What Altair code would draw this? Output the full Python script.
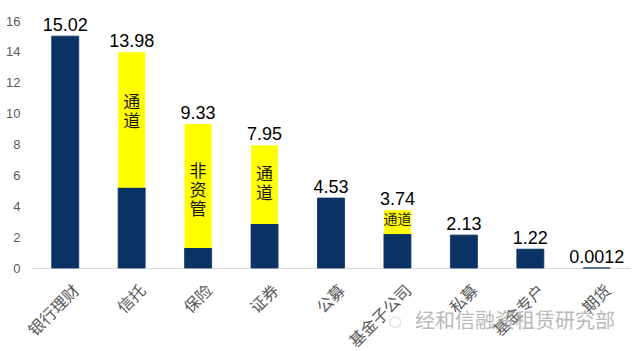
import altair as alt
import pandas as pd

categories = ["银行理财", "信托", "保险", "证券", "公募", "基金子公司", "私募", "基金专户", "期货"]
totals = [15.02, 13.98, 9.33, 7.95, 4.53, 3.74, 2.13, 1.22, 0.0012]
base_part = [15.02, 5.2, 1.3, 2.85, 4.53, 2.2, 2.13, 1.22, 0.0012]
total_labels = ["15.02", "13.98", "9.33", "7.95", "4.53", "3.74", "2.13", "1.22", "0.0012"]
y_ticks = [0, 2, 4, 6, 8, 10, 12, 14, 16]

note_categories = ["信托", "保险", "证券"]
note_texts = ["通\n道", "非\n资\n管", "通\n道"]
note_at = [10.7, 6.2, 6.0]

small_note_category = ["基金子公司"]
small_note_text = ["通道"]
small_note_at = [3.1]

NAVY = "#0b3264"
YELLOW = "#ffff00"
FONT_CJK = "Noto Sans CJK SC"

df = pd.DataFrame({
    "cat": categories,
    "total": totals,
    "base": base_part,
    "label": total_labels,
})
df["zero"] = 0.0
yellow_df = df[df["total"] > df["base"]]

notes = pd.DataFrame({"cat": note_categories, "text": note_texts, "at": note_at})
small = pd.DataFrame({"cat": small_note_category, "text": small_note_text, "at": small_note_at})

x_axis = alt.Axis(
    labelAngle=-45,
    labelFont=FONT_CJK,
    labelFontSize=16,
    labelColor="#595959",
    ticks=False,
    labelPadding=14,
    labelOffset=6,
    domainColor="#d9d9d9",
    domainWidth=1,
)
x_scale = alt.Scale(paddingInner=0, paddingOuter=0)
y_axis = alt.Axis(
    values=y_ticks,
    grid=False,
    domain=False,
    ticks=False,
    labelOverlap=False,
    labelPadding=12,
    labelFont="Liberation Sans",
    labelFontSize=13,
    labelColor="#595959",
)
y_scale = alt.Scale(domain=[0, 16], nice=False)


def X():
    return alt.X("cat:N", sort=categories, title=None, scale=x_scale, axis=x_axis)


def Y(field):
    return alt.Y(field, scale=y_scale, title=None, axis=y_axis)


blue = alt.Chart(df).mark_bar(size=27, color=NAVY, stroke=NAVY, strokeWidth=0.8).encode(
    x=X(), y=Y("base:Q"), y2="zero:Q",
)

yellow = alt.Chart(yellow_df).mark_bar(size=27, color=YELLOW).encode(
    x=X(), y=Y("total:Q"), y2="base:Q",
)

values = alt.Chart(df).mark_text(
    baseline="bottom", dy=-1, font="Liberation Sans", fontSize=18, color="#000000"
).encode(x=X(), y=Y("total:Q"), text="label:N")

note_marks = alt.Chart(notes).mark_text(
    font=FONT_CJK, fontSize=17, color="#1a1a1a", lineBreak="\n", lineHeight=19,
    baseline="middle", align="center",
).encode(x=X(), y=Y("at:Q"), text="text:N")

small_marks = alt.Chart(small).mark_text(
    font=FONT_CJK, fontSize=14, color="#1a1a1a", baseline="middle", align="center",
).encode(x=X(), y=Y("at:Q"), text="text:N")

watermark = alt.Chart(pd.DataFrame({"t": ["经和信融资租赁研究部"]})).mark_text(
    font=FONT_CJK, fontSize=20, color="#a8a8a8", opacity=0.8, align="left", baseline="middle",
).encode(x=alt.value(383), y=alt.value(301), text="t:N")

icon = alt.Chart(pd.DataFrame({"t": ["◌"]})).mark_text(
    fontSize=24, color="#a8a8a8", opacity=0.7, baseline="middle",
).encode(x=alt.value(363), y=alt.value(301), text="t:N")

chart = alt.layer(blue, yellow, values, note_marks, small_marks, watermark, icon).properties(
    width=598,
    height=247,
    autosize=alt.AutoSizeParams(type="none"),
    padding={"left": 32, "top": 21, "right": 10, "bottom": 83},
    background="#ffffff",
).configure_view(stroke=None)

chart.save("out.html", embed_options={"renderer": "svg", "actions": False})
